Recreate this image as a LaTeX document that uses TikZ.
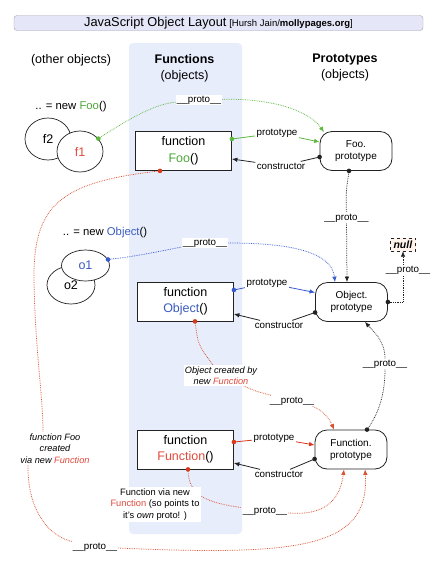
\documentclass[tikz,border=0pt]{standalone}
\usepackage{fontspec}
\setmainfont{Liberation Sans}
\usetikzlibrary{arrows.meta,calc,shapes.geometric}
\definecolor{gcol}{HTML}{5CB83E}
\definecolor{gtext}{HTML}{4EA83A}
\definecolor{bcol}{HTML}{3A5BD0}
\definecolor{btext}{HTML}{3B5CC0}
\definecolor{rcol}{HTML}{D9512F}
\definecolor{rdot}{HTML}{D8381C}
\definecolor{rtext}{HTML}{E04A3C}
\definecolor{colbg}{HTML}{E8EDFC}
\definecolor{titlebg}{HTML}{E5E7F8}
\definecolor{titleln}{HTML}{A0A2B4}
\definecolor{nullbg}{HTML}{FFF3EC}
\definecolor{ink}{HTML}{222222}
\pgfdeclarelayer{bg}
\pgfdeclarelayer{ln}
\pgfsetlayers{bg,ln,main}
\begin{document}
\begin{tikzpicture}[x=1pt,y=-1pt,
  fnbox/.style={draw=ink,line width=0.8pt,fill=white,minimum width=96pt,minimum height=39pt,inner sep=0pt,align=center,font=\fontsize{12.5}{16.5}\selectfont},
  ptbox/.style={draw=ink,line width=0.8pt,fill=white,rounded corners=12pt,minimum width=72pt,minimum height=39pt,inner sep=0pt,align=center,font=\fontsize{10}{12}\selectfont},
  inst/.style={ellipse,draw=ink,line width=0.7pt,fill=white,inner sep=0pt,font=\fontsize{12.5}{14}\selectfont},
  lbl/.style={fill=white,inner sep=1.2pt,font=\fontsize{9.8}{11}\selectfont},
  note/.style={fill=white,inner sep=1.2pt,align=center,font=\fontsize{9.2}{11.5}\selectfont},
  hdr/.style={align=center,font=\fontsize{12.5}{16}\selectfont},
  dl/.style={densely dotted,line width=0.75pt},
  tip/.style={-{Latex[length=5.5pt,width=4.5pt]}},
  sl/.style={line width=0.8pt},
  dotc/.style={circle,fill,inner sep=0pt,minimum size=4.6pt},
]
\useasboundingbox (0,0) rectangle (442,566);
\begin{pgfonlayer}{bg}
\fill[white] (0,0) rectangle (442,566);
\fill[colbg, rounded corners=4pt] (129,43) rectangle (242,534);
\end{pgfonlayer}

% title
\node[draw=titleln,fill=titlebg,rounded corners=3pt,minimum width=409pt,minimum height=15pt,inner sep=0pt] (title) at (218.5,23)
  {{\fontsize{12.8}{14}\selectfont JavaScript Object Layout} {\fontsize{9.5}{11}\selectfont [Hursh Jain/\textbf{mollypages.org}]}};

% headers
\node[hdr] (hother) at (71,60) {(other objects)};
\node[hdr] (hfun) at (184.5,68) {\textbf{Functions}\\(objects)};
\node[hdr] (hproto) at (345,67.5) {\textbf{Prototypes}\\(objects)};

% instances
\node[font=\fontsize{11.3}{13}\selectfont] (newfoo) at (71,107) {.. = new {\color{gtext}Foo}()};
\node[inst,minimum width=46pt,minimum height=42pt] (f2) at (48,139) {f2};
\node[inst,minimum width=46pt,minimum height=41pt,text=rtext] (f1) at (80,151.5) {f1};
\node[font=\fontsize{11.3}{13}\selectfont] (newobj) at (105,233) {.. = new {\color{btext}Object}()};
\node[inst,minimum width=48pt,minimum height=38pt] (o2) at (71,285) {\raisebox{-3pt}{o2}};
\node[inst,minimum width=48pt,minimum height=31pt,text=btext] (o1) at (85.5,265.5) {o1};

% functions and prototypes
\node[fnbox] (fooF) at (183.5,151) {function\\{\color{gtext}Foo}()};
\node[ptbox] (fooP) at (356,151) {Foo.\\prototype};
\node[fnbox] (objF) at (185.5,301.5) {function\\{\color{btext}Object}()};
\node[ptbox] (objP) at (351.5,302) {Object.\\prototype};
\node[fnbox] (funF) at (185.5,449.5) {function\\{\color{rtext}Function}()};
\node[ptbox] (funP) at (351,449.5) {Function.\\prototype};
\node[draw=ink,dashed,fill=nullbg,minimum width=25pt,minimum height=13pt,inner sep=0pt,font=\fontsize{10.5}{12}\selectfont] (nullb) at (403,244.5) {\textbf{\textit{null}}};

% labels
\node[lbl] (protoF) at (199,100) {\_\_proto\_\_};
\node[lbl] (protoG) at (205,243) {\_\_proto\_\_};
\node[lbl] (protoE) at (346.5,218) {\_\_proto\_\_};
\node[lbl] (protoH) at (408,270) {\_\_proto\_\_};
\node[lbl] (protoD) at (385,364) {\_\_proto\_\_};
\node[lbl] (protoC) at (292,401) {\_\_proto\_\_};
\node[lbl] (protoB) at (265,511) {\_\_proto\_\_};
\node[lbl] (protoA) at (95,547) {\_\_proto\_\_};
\node[lbl] (pl1) at (277,133) {prototype};
\node[lbl] (cl1) at (281,166) {constructor};
\node[lbl] (pl2) at (267,283) {prototype};
\node[lbl] (cl2) at (279,325) {constructor};
\node[lbl] (pl3) at (274,438) {prototype};
\node[lbl] (cl3) at (279,474) {constructor};
\node[note,font=\fontsize{9.2}{11.2}\selectfont\itshape] (ocl) at (221,375.5) {Object created by\\new {\color{rtext}Function}};
\node[note,font=\fontsize{9.2}{11.5}\selectfont\itshape] (fooLbl) at (55,448.5) {function Foo\\created\\via new {\color{rtext}Function}};
\node[note,font=\fontsize{9.3}{11.5}\selectfont] (fvl) at (155,504.5) {Function via new\\{\color{rtext}Function} (so points to\\it's \textit{own} proto! )};

% dot coordinates
\coordinate (dF1) at (f1.35);
\coordinate (dO1) at (o1.15);
\coordinate (dFooFb) at ([xshift=-23.5pt]fooF.south);
\coordinate (dFooFr) at ([yshift=12pt]fooF.east);
\coordinate (dFooPl) at ([yshift=-6pt]fooP.west);
\coordinate (dFooPb) at ([xshift=-7pt]fooP.south);
\coordinate (dObjFr) at ([yshift=11.5pt]objF.east);
\coordinate (dObjFb) at ([xshift=9.5pt]objF.south);
\coordinate (dObjPl) at ([yshift=-10.5pt]objP.west);
\coordinate (dObjPr) at (objP.east);
\coordinate (dFunFr) at ([yshift=7.5pt]funF.east);
\coordinate (dFunFb) at ([xshift=2.5pt]funF.south);
\coordinate (dFunPl) at ([yshift=-9.5pt]funP.west);
\coordinate (dFunPt) at ([xshift=16pt]funP.north);

\begin{pgfonlayer}{ln}
% green
\draw[dl,gcol] (dF1) .. controls (130,118) and (155,104) .. (protoF);
\draw[dl,gcol,tip] (protoF) .. controls (275,98) and (310,112) .. ([xshift=-32pt,yshift=-1pt]fooP.north);
\draw[sl,gcol] (dFooFr) -- (pl1);
\draw[sl,gcol,tip] (pl1) -- ([yshift=9pt]fooP.west);
\draw[sl,ink] (dFooPl) -- (cl1);
\draw[sl,ink,tip] (cl1) -- ([yshift=-8pt]fooF.east);
% foo proto chain
\draw[dl,ink] (dFooPb) .. controls (346,192) .. (protoE);
\draw[dl,ink,tip] (protoE) -- ([xshift=-4.5pt]objP.north);
% blue
\draw[dl,bcol] (dO1) .. controls (140,256) and (165,250) .. (protoG);
\draw[dl,bcol,tip] (protoG) .. controls (300,243) and (332,255) .. ([xshift=-16.5pt]objP.north);
\draw[sl,bcol] (dObjFr) -- (pl2);
\draw[sl,bcol,tip] (pl2) -- ([yshift=9.5pt]objP.west);
\draw[sl,ink] (dObjPl) -- (cl2);
\draw[sl,ink,tip] (cl2) -- ([yshift=-12.5pt]objF.east);
% null
\draw[dl,ink,tip] (dObjPr) -| (nullb.south);
% function prototype to object prototype
\draw[dl,ink] (dFunPt) .. controls (378,415) and (385,395) .. (protoD);
\draw[dl,ink,tip] (protoD) .. controls (385,340) and (372,330) .. ([xshift=13.5pt]objP.south);
% red solid
\draw[sl,rdot] (dFunFr) -- (pl3);
\draw[sl,rdot,tip] (pl3) -- ([yshift=4.5pt]funP.west);
\draw[sl,ink] (dFunPl) -- (cl3);
\draw[sl,ink,tip] (cl3) -- ([yshift=-13.5pt]funF.east);
% object created by new Function
\draw[dl,rcol] (dObjFb) .. controls (198,345) .. (ocl);
\draw[dl,rcol] (ocl) .. controls (255,391) .. (protoC);
\draw[dl,rcol,tip] (protoC) .. controls (318,408) and (328,415) .. ([xshift=-17pt]funP.north);
% Function via new Function
\draw[dl,rcol] (dFunFb) .. controls (188,497) and (210,503) .. (protoB);
\draw[dl,rcol,tip] (protoB) .. controls (325,516) and (340,500) .. ([xshift=-7pt]funP.south);
% function Foo created via new Function
\draw[dl,rcol] (dFooFb) .. controls (60,182) and (33,205) .. (34,280) .. controls (35,350) and (43,395) .. ([xshift=-12pt]fooLbl.north);
\draw[dl,rcol] ([xshift=9pt]fooLbl.south west) .. controls (27,505) and (45,535) .. (protoA);
\draw[dl,rcol,tip] (protoA) .. controls (300,556) and (370,548) .. ([xshift=14pt]funP.south);
\end{pgfonlayer}

% dots
\node[dotc,gcol] at (dF1) {};
\node[dotc,bcol] at (dO1) {};
\node[dotc,rdot] at (dFooFb) {};
\node[dotc,gcol] at (dFooFr) {};
\node[dotc,ink] at (dFooPl) {};
\node[dotc,ink] at (dFooPb) {};
\node[dotc,bcol] at (dObjFr) {};
\node[dotc,rdot] at (dObjFb) {};
\node[dotc,ink] at (dObjPl) {};
\node[dotc,ink] at (dObjPr) {};
\node[dotc,rdot] at (dFunFr) {};
\node[dotc,rdot] at (dFunFb) {};
\node[dotc,ink] at (dFunPl) {};
\node[dotc,ink] at (dFunPt) {};
\end{tikzpicture}
\end{document}
